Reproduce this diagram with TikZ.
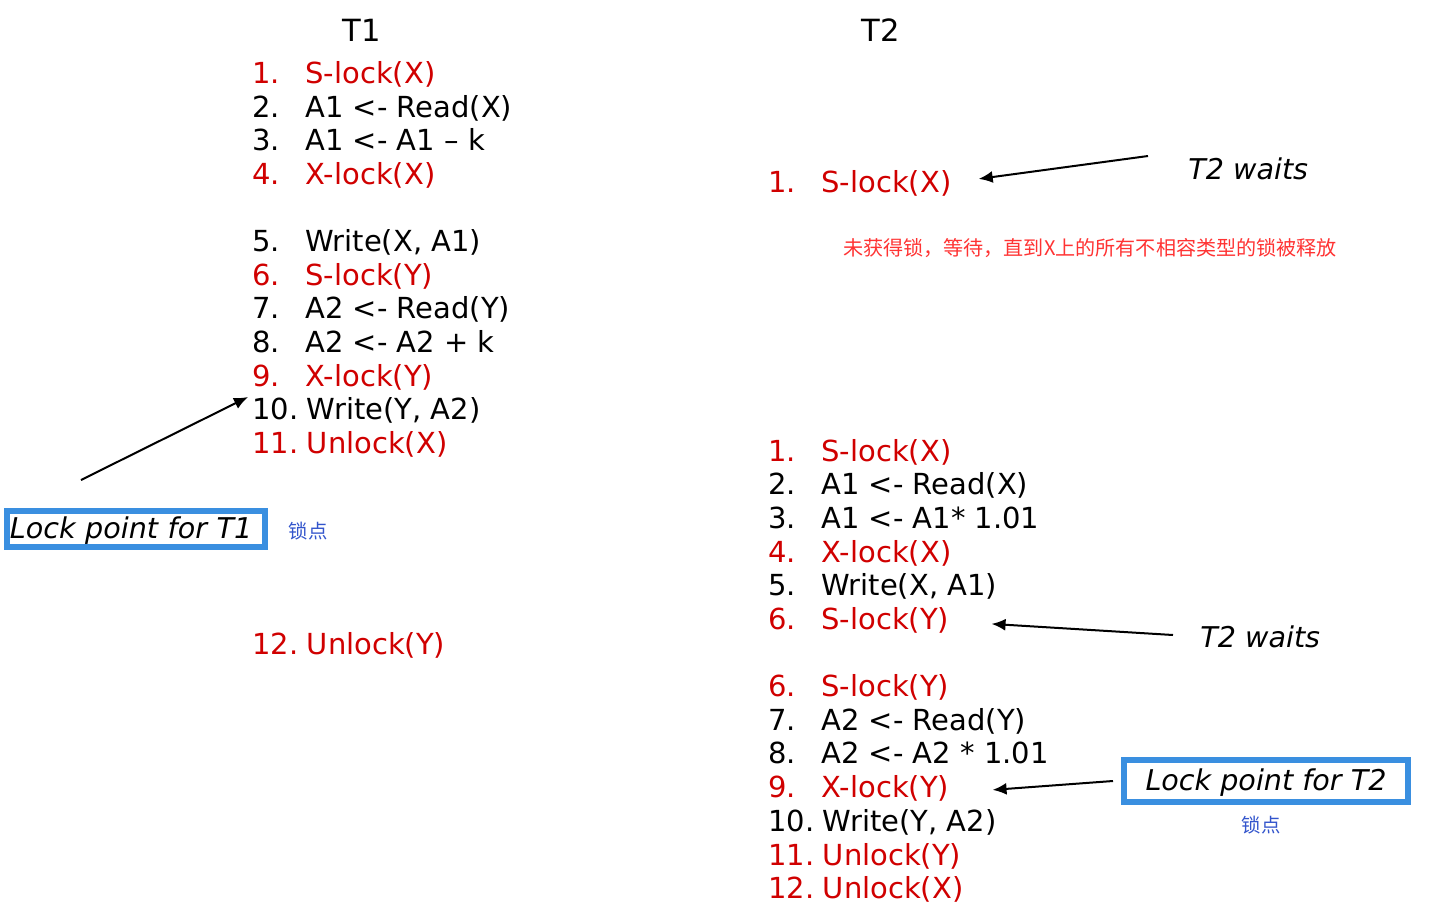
\documentclass[tikz,border=0pt]{standalone}
\usepackage{fontspec}
\setmainfont{DejaVu Sans}
\newfontfamily\cjk{Noto Sans CJK SC}
\usetikzlibrary{arrows.meta}
\definecolor{lockred}{HTML}{D00000}
\definecolor{notered}{HTML}{FF3333}
\definecolor{boxblue}{HTML}{3A8FE0}
\definecolor{noteblue}{HTML}{3355CC}
\tikzset{
  stmt/.style={anchor=base west, inner sep=0pt, font=\fontsize{14.5}{17}\selectfont},
  lk/.style={stmt, text=lockred},
  head/.style={anchor=base, inner sep=0pt, font=\fontsize{15.3}{18}\selectfont},
  waits/.style={anchor=base west, inner sep=0pt, font=\fontsize{14.3}{17}\selectfont\itshape},
  lpbox/.style={draw=boxblue, line width=3pt, inner ysep=0pt, minimum height=18pt,
    text depth=0.1em, font=\fontsize{14.3}{17}\selectfont\itshape},
  cjknote/.style={inner sep=0pt, font=\cjk\fontsize{9.7}{11}\selectfont},
  arr/.style={-{Latex[length=7pt,width=6pt]}, line width=1pt}
}
\newcommand{\twodig}{\kern-2pt}
\begin{document}
\begin{tikzpicture}[x=0.5pt,y=-0.5pt]
\useasboundingbox (0,0) rectangle (1431,906);
\pgfmathsetmacro{\nun}{252}
\pgfmathsetmacro{\tun}{305}
\pgfmathsetmacro{\ndeux}{768}
\pgfmathsetmacro{\tdeux}{821}
  % headings
  \node[head] (h1) at (362,41) {T1};
  \node[head] (h2) at (881,41) {T2};
  % T1
  \node[lk] (a1n) at (\nun,83) {1.};   \node[lk] (a1) at (\tun,83) {S-lock(X)};
  \node[stmt] (a2n) at (\nun,117) {2.}; \node[stmt] (a2) at (\tun,117) {A1 <- Read(X)};
  \node[stmt] (a3n) at (\nun,150) {3.}; \node[stmt] (a3) at (\tun,150) {A1 <- A1 – k};
  \node[lk] (a4n) at (\nun,184) {4.};   \node[lk] (a4) at (\tun,184) {X-lock(X)};
  \node[stmt] (b5n) at (\nun,251) {5.}; \node[stmt] (b5) at (\tun,251) {Write(X, A1)};
  \node[lk] (b6n) at (\nun,285) {6.};   \node[lk] (b6) at (\tun,285) {S-lock(Y)};
  \node[stmt] (b7n) at (\nun,318) {7.}; \node[stmt] (b7) at (\tun,318) {A2 <- Read(Y)};
  \node[stmt] (b8n) at (\nun,352) {8.}; \node[stmt] (b8) at (\tun,352) {A2 <- A2 + k};
  \node[lk] (b9n) at (\nun,386) {9.};   \node[lk] (b9) at (\tun,386) {X-lock(Y)};
  \node[stmt] (b10) at (\nun,419) {10.\twodig{} Write(Y, A2)};
  \node[lk] (b11) at (\nun,453) {11.\twodig{} Unlock(X)};
  \node[lk] (b12) at (\nun,654) {12.\twodig{} Unlock(Y)};
  % lock point T1
  \node[lpbox, text width=126pt, align=left, inner xsep=1.5pt] (lp1) at (136,529) {Lock point for T1};
  \node[cjknote, text=noteblue] (lp1n) at (308,531) {锁点};
  \coordinate (lp1from) at (81,480);
  \draw[arr] (lp1from) -- ([shift={(-4,-22)}]b10.base west);
  % T2, first try
  \node[lk] (c1n) at (\ndeux,192) {1.}; \node[lk] (c1) at (\tdeux,192) {S-lock(X)};
  \node[waits] (w1) at (1188,179) {T2 waits};
  \coordinate (w1from) at (1148,156);
  \draw[arr] (w1from) -- ([shift={(27,-4)}]c1.east);
  \node[cjknote, text=notered, font=\cjk\fontsize{10.05}{11}\selectfont] (note) at (1090,248) {未获得锁，等待，直到X上的所有不相容类型的锁被释放};
  % T2, second try
  \node[lk] (d1n) at (\ndeux,461) {1.};   \node[lk] (d1) at (\tdeux,461) {S-lock(X)};
  \node[stmt] (d2n) at (\ndeux,494) {2.}; \node[stmt] (d2) at (\tdeux,494) {A1 <- Read(X)};
  \node[stmt] (d3n) at (\ndeux,528) {3.}; \node[stmt] (d3) at (\tdeux,528) {A1 <- A1* 1.01};
  \node[lk] (d4n) at (\ndeux,562) {4.};   \node[lk] (d4) at (\tdeux,562) {X-lock(X)};
  \node[stmt] (d5n) at (\ndeux,595) {5.}; \node[stmt] (d5) at (\tdeux,595) {Write(X, A1)};
  \node[lk] (d6n) at (\ndeux,629) {6.};   \node[lk] (d6) at (\tdeux,629) {S-lock(Y)};
  \node[waits] (w2) at (1200,647) {T2 waits};
  \coordinate (w2from) at (1173,635);
  \draw[arr] (w2from) -- ([shift={(42,4)}]d6.east);
  % T2, after waiting on Y
  \node[lk] (e6n) at (\ndeux,696) {6.};   \node[lk] (e6) at (\tdeux,696) {S-lock(Y)};
  \node[stmt] (e7n) at (\ndeux,730) {7.}; \node[stmt] (e7) at (\tdeux,730) {A2 <- Read(Y)};
  \node[stmt] (e8n) at (\ndeux,763) {8.}; \node[stmt] (e8) at (\tdeux,763) {A2 <- A2 * 1.01};
  \node[lk] (e9n) at (\ndeux,797) {9.};   \node[lk] (e9) at (\tdeux,797) {X-lock(Y)};
  \node[stmt] (e10) at (\ndeux,831) {10.\twodig{} Write(Y, A2)};
  \node[lk] (e11) at (\ndeux,865) {11.\twodig{} Unlock(Y)};
  \node[lk] (e12) at (\ndeux,898) {12.\twodig{} Unlock(X)};
  % lock point T2
  \node[lpbox, minimum width=142pt, minimum height=21pt, inner xsep=0pt] (lp2) at (1266,781) {Lock point for T2};
  \node[cjknote, text=noteblue] (lp2n) at (1261,825) {锁点};
  \draw[arr] ([xshift=-4]lp2.west) -- ([shift={(43,2)}]e9.east);
\end{tikzpicture}
\end{document}
